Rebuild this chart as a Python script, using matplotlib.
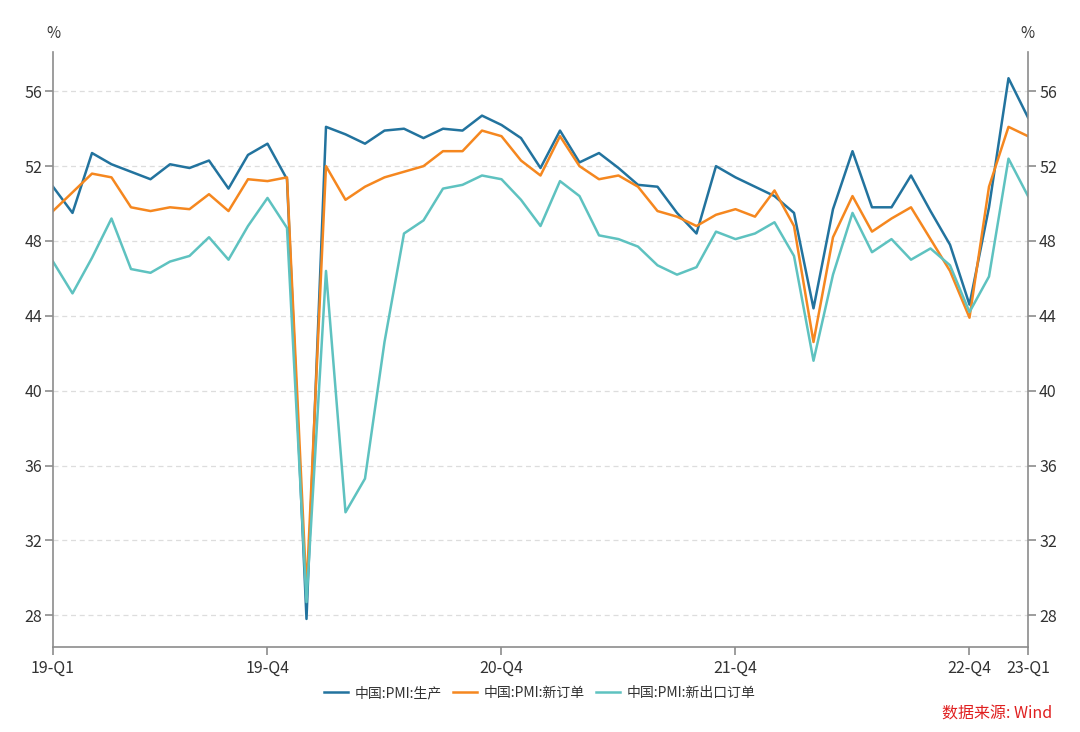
import matplotlib
matplotlib.use("Agg")
import matplotlib.pyplot as plt

plt.rcParams['font.family'] = ['Noto Sans CJK SC', 'DejaVu Sans']

production = [50.9, 49.5, 52.7, 52.1, 51.7, 51.3, 52.1, 51.9, 52.3, 50.8, 52.6, 53.2,
              51.3, 27.8, 54.1, 53.7, 53.2, 53.9, 54.0, 53.5, 54.0, 53.9, 54.7, 54.2,
              53.5, 51.9, 53.9, 52.2, 52.7, 51.9, 51.0, 50.9, 49.5, 48.4, 52.0, 51.4,
              50.9, 50.4, 49.5, 44.4, 49.7, 52.8, 49.8, 49.8, 51.5, 49.6, 47.8, 44.6,
              49.8, 56.7, 54.6]
new_orders = [49.6, 50.6, 51.6, 51.4, 49.8, 49.6, 49.8, 49.7, 50.5, 49.6, 51.3, 51.2,
              51.4, 29.3, 52.0, 50.2, 50.9, 51.4, 51.7, 52.0, 52.8, 52.8, 53.9, 53.6,
              52.3, 51.5, 53.6, 52.0, 51.3, 51.5, 50.9, 49.6, 49.3, 48.8, 49.4, 49.7,
              49.3, 50.7, 48.8, 42.6, 48.2, 50.4, 48.5, 49.2, 49.8, 48.1, 46.4, 43.9,
              50.9, 54.1, 53.6]
export_orders = [46.9, 45.2, 47.1, 49.2, 46.5, 46.3, 46.9, 47.2, 48.2, 47.0, 48.8, 50.3,
                 48.7, 28.7, 46.4, 33.5, 35.3, 42.6, 48.4, 49.1, 50.8, 51.0, 51.5, 51.3,
                 50.2, 48.8, 51.2, 50.4, 48.3, 48.1, 47.7, 46.7, 46.2, 46.6, 48.5, 48.1,
                 48.4, 49.0, 47.2, 41.6, 46.2, 49.5, 47.4, 48.1, 47.0, 47.6, 46.7, 44.2,
                 46.1, 52.4, 50.4]
tick_pos = [0, 11, 23, 35, 47, 50]
tick_labels = ['19-Q1', '19-Q4', '20-Q4', '21-Q4', '22-Q4', '23-Q1']
y_ticks = [28, 32, 36, 40, 44, 48, 52, 56]
series_names = ['中国:PMI:生产', '中国:PMI:新订单', '中国:PMI:新出口订单']
colors = ['#22739e', '#f5871f', '#5ec2c0']

fig = plt.figure(figsize=(10.8, 7.32), dpi=100)
ax = fig.add_axes([0.04907, 0.11612, 0.90278, 0.81284])
x = list(range(len(production)))
for data, name, c in zip([production, new_orders, export_orders], series_names, colors):
    ax.plot(x, data, color=c, lw=1.8, label=name)

ax.set_xlim(0, 50)
ax.set_ylim(26.3, 58.1)
ax.set_yticks(y_ticks)
ax.set_xticks(tick_pos)
ax.set_xticklabels(tick_labels)
ax.yaxis.grid(True, linestyle=(0, (4, 3)), color='#dddddd', lw=0.9)
ax.set_axisbelow(True)

ax.spines['top'].set_visible(False)
for s in ['left', 'right', 'bottom']:
    ax.spines[s].set_color('#8c8c8c')
    ax.spines[s].set_linewidth(1.2)
ax.tick_params(axis='both', colors='#8c8c8c', labelcolor='#333333', labelsize=11.5, length=6, width=1.2)
ax.tick_params(axis='y', labelright=True, right=True, pad=2)
ax.tick_params(axis='x', pad=3)

fig.text(53 / 1080, 1 - 34 / 732, '%', ha='center', va='center', fontsize=11, color='#333333')
fig.text(1027 / 1080, 1 - 34 / 732, '%', ha='center', va='center', fontsize=11, color='#333333')

fig.legend(loc='center', bbox_to_anchor=(0.5, 1 - 693 / 732), ncol=3, frameon=False,
           fontsize=10, handlelength=1.7, columnspacing=0.8, handletextpad=0.5,
           labelcolor='#333333')
fig.text(1052 / 1080, 1 - 714 / 732, '数据来源: Wind', ha='right', va='center',
         fontsize=11.5, color='#e02020')

fig.savefig('out.png', dpi=100)
